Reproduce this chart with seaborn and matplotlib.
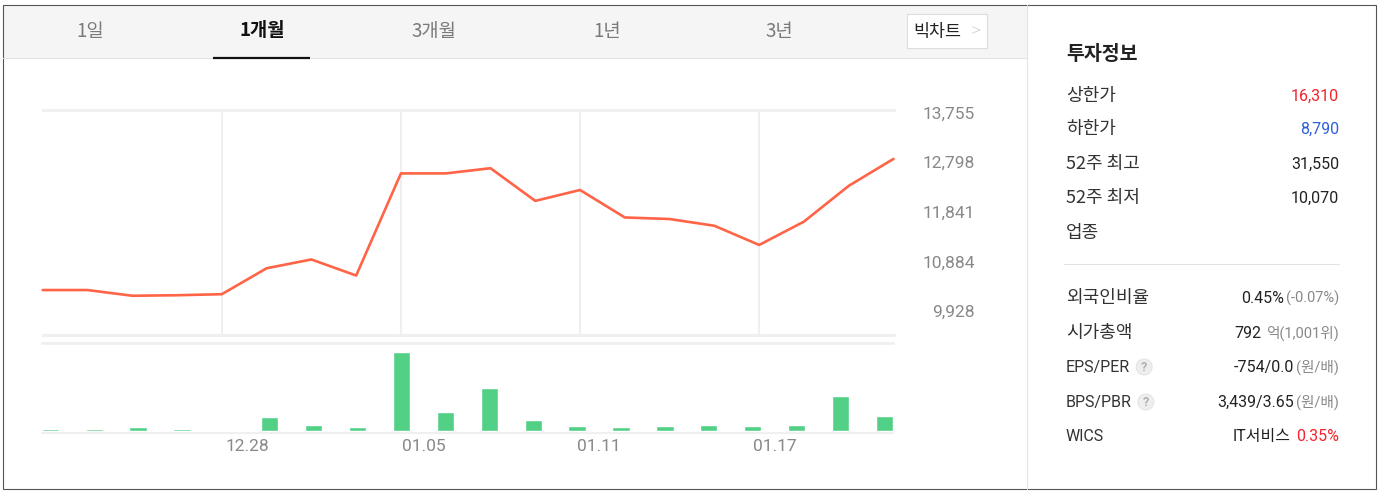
import numpy as np
import pandas as pd
import seaborn as sns
import matplotlib
matplotlib.use("Agg")
import matplotlib.pyplot as plt
from matplotlib.patches import Rectangle, Circle

# --- data ----------------------------------------------------------------
dates = ["12.21", "12.22", "12.26", "12.27", "12.28", "01.02", "01.03", "01.04",
         "01.05", "01.08", "01.09", "01.10", "01.11", "01.12", "01.15", "01.16",
         "01.17", "01.18", "01.19", "01.22"]
close = [10330, 10330, 10220, 10230, 10250, 10750, 10920, 10610, 12580, 12580,
         12680, 12050, 12260, 11730, 11700, 11570, 11200, 11650, 12340, 12860]
volume = [24000, 17000, 37000, 17000, 13000, 143000, 63000, 40000, 793000, 193000,
          433000, 110000, 53000, 40000, 47000, 63000, 47000, 57000, 353000, 147000]
label_dates = ["12.28", "01.05", "01.11", "01.17"]
price_ticks = [9928, 10884, 11841, 12798, 13755]

tabs = ["1일", "1개월", "3개월", "1년", "3년"]
active_tab = "1개월"

info_labels = ["상한가", "하한가", "52주 최고", "52주 최저", "업종"]
info_values = ["16,310", "8,790", "31,550", "10,070", ""]
info_colors = ["#f5222d", "#2f5fd8", "#222222", "#222222", "#222222"]

extra_labels = ["외국인비율", "시가총액", "EPS/PER", "BPS/PBR", "WICS"]
extra_main = ["0.45%", "792", "-754/0.0", "3,439/3.65", "IT서비스"]
extra_tail = ["(-0.07%)", "억(1,001위)", "(원/배)", "(원/배)", "0.35%"]
help_icon = ["EPS/PER", "BPS/PBR"]

df = pd.DataFrame({"date": dates, "idx": range(len(dates)),
                   "close": close, "volume": volume})

# --- style ---------------------------------------------------------------
sns.set_style("white")
KR = ["Noto Sans CJK KR", "DejaVu Sans"]
NUM = ["Roboto", "Noto Sans CJK KR", "DejaVu Sans"]
plt.rcParams["font.family"] = KR

LINE_C = "#ff6446"
BAR_C = "#52d085"
GRID_C = "#efefef"
TICK_C = "#888888"

W, H = 1384, 494
fig = plt.figure(figsize=(W / 100, H / 100), dpi=100)
fig.patch.set_facecolor("white")

# background canvas in pixel units
bg = fig.add_axes([0, 0, 1, 1])
bg.set_xlim(0, W)
bg.set_ylim(H, 0)
bg.axis("off")

bg.add_patch(Rectangle((3, 5), 1024, 53, facecolor="#f5f5f5", edgecolor="none"))
bg.plot([3, 1027], [58.5, 58.5], color="#e3e3e3", lw=0.8)
bg.plot([1027, 1027], [5, 489], color="#e3e3e3", lw=0.8)
bg.add_patch(Rectangle((3, 5), 1373, 484, facecolor="none", edgecolor="#555555", lw=0.8))

tab_x = [90, 262, 434, 607, 779]
for t, x in zip(tabs, tab_x):
    on = t == active_tab
    bg.text(x, 31, t, ha="center", va="center", fontsize=13.5,
            color="#111111" if on else "#7a7a7a", weight="bold" if on else "normal")
    if on:
        bg.plot([213, 310], [58, 58], color="#111111", lw=1.6, solid_capstyle="butt")

bg.add_patch(Rectangle((906.5, 14.5), 80.5, 34, facecolor="white", edgecolor="#dddddd", lw=0.8))
bg.text(913, 31.5, "빅차트", ha="left", va="center", fontsize=12.5, color="#222222")
bg.text(976, 31, ">", ha="center", va="center", fontsize=14, color="#b0b0b0",
        family=NUM, weight="light")

# right info panel
bg.text(1066, 55, "투자정보", ha="left", va="center", fontsize=14,
        weight="bold", color="#222222")
renderer = fig.canvas.get_renderer()
top_y = [96, 129, 164, 198, 233]
for lab, val, c, y in zip(info_labels, info_values, info_colors, top_y):
    bg.text(1066, y, lab, ha="left", va="center", fontsize=13, color="#333333")
    if val:
        bg.text(1339, y, val, ha="right", va="center", fontsize=11.5,
                color=c, family=NUM)

bg.plot([1064, 1339], [263.5, 263.5], color="#e3e3e3", lw=0.8)

low_y = [298, 333, 367, 402, 436]
for lab, main, tail, y in zip(extra_labels, extra_main, extra_tail, low_y):
    lt = bg.text(1066, y, lab, ha="left", va="center",
                 fontsize=11.5 if lab.isascii() else 13,
                 color="#333333", family=NUM if lab.isascii() else KR)
    if lab in help_icon:
        ext = lt.get_window_extent(renderer)
        cx = ext.x1 + 14
        bg.add_patch(Circle((cx, y), 8, facecolor="#eeeeee", edgecolor="#e0e0e0", lw=0.6))
        bg.text(cx, y, "?", ha="center", va="center", fontsize=9,
                color="#b0b0b0", weight="bold", family=NUM)
    if lab == "WICS":
        tt = bg.text(1339, y, tail, ha="right", va="center", fontsize=11.5,
                     color="#f5222d", family=NUM)
        gap = 5
    else:
        tt = bg.text(1339, y, tail, ha="right", va="center", fontsize=10.5,
                     color="#888888", family=NUM)
        gap = 5 if lab == "시가총액" else 2
    x = 1339 - tt.get_window_extent(renderer).width - gap
    bg.text(x, y, main, ha="right", va="center", fontsize=11.5,
            color="#222222", family=NUM)

# --- price line ---------------------------------------------------------
ax = fig.add_axes([42.7 / W, 1 - 335 / H, (893.5 - 42.7) / W, 225 / H])
ax.set_facecolor("none")
for d in label_dates:
    ax.axvline(dates.index(d), color=GRID_C, lw=1.5, zorder=0)
sns.lineplot(data=df, x="idx", y="close", ax=ax, color=LINE_C, lw=1.9, clip_on=False)
ax.set_xlim(0, len(dates) - 1)
ax.set_ylim(9463, 13803)
ax.set_xlabel("")
ax.set_ylabel("")
for s in ["left", "right"]:
    ax.spines[s].set_visible(False)
for s in ["top", "bottom"]:
    ax.spines[s].set_color("#f0f0f0")
    ax.spines[s].set_linewidth(2.2)
ax.set_xticks([])
ax.set_yticks(price_ticks)
ax.set_yticklabels([f"{v:,}" for v in price_ticks])
ax.yaxis.tick_right()
ax.tick_params(axis="y", length=0, pad=58.5, labelsize=12.5, labelcolor=TICK_C)
plt.setp(ax.get_yticklabels(), ha="right", family=NUM)

# --- volume bars --------------------------------------------------------
vx = fig.add_axes([41.7 / W, 1 - 431 / H, (893 - 41.7) / W, 88.5 / H])
vx.set_facecolor("none")
sns.barplot(data=df, x="date", y="volume", ax=vx, color=BAR_C, saturation=1,
            width=0.394)
vx.set_xlim(-0.197, 19.195)
vx.set_ylim(0, 885000)
vx.set_xlabel("")
vx.set_ylabel("")
for s in ["left", "right"]:
    vx.spines[s].set_visible(False)
vx.spines["top"].set_color("#f0f0f0")
vx.spines["top"].set_linewidth(2.0)
vx.spines["bottom"].set_color("#f0f0f0")
vx.spines["bottom"].set_linewidth(1.5)
vx.spines["bottom"].set_position(("outward", 1.5))
vx.set_yticks([])
vx.set_xticks([dates.index(d) for d in label_dates])
vx.set_xticklabels(label_dates)
vx.tick_params(axis="x", length=0, pad=4, labelsize=12.5, labelcolor=TICK_C)
plt.setp(vx.get_xticklabels(), ha="left", family=NUM)

fig.savefig("out.png", dpi=100)
